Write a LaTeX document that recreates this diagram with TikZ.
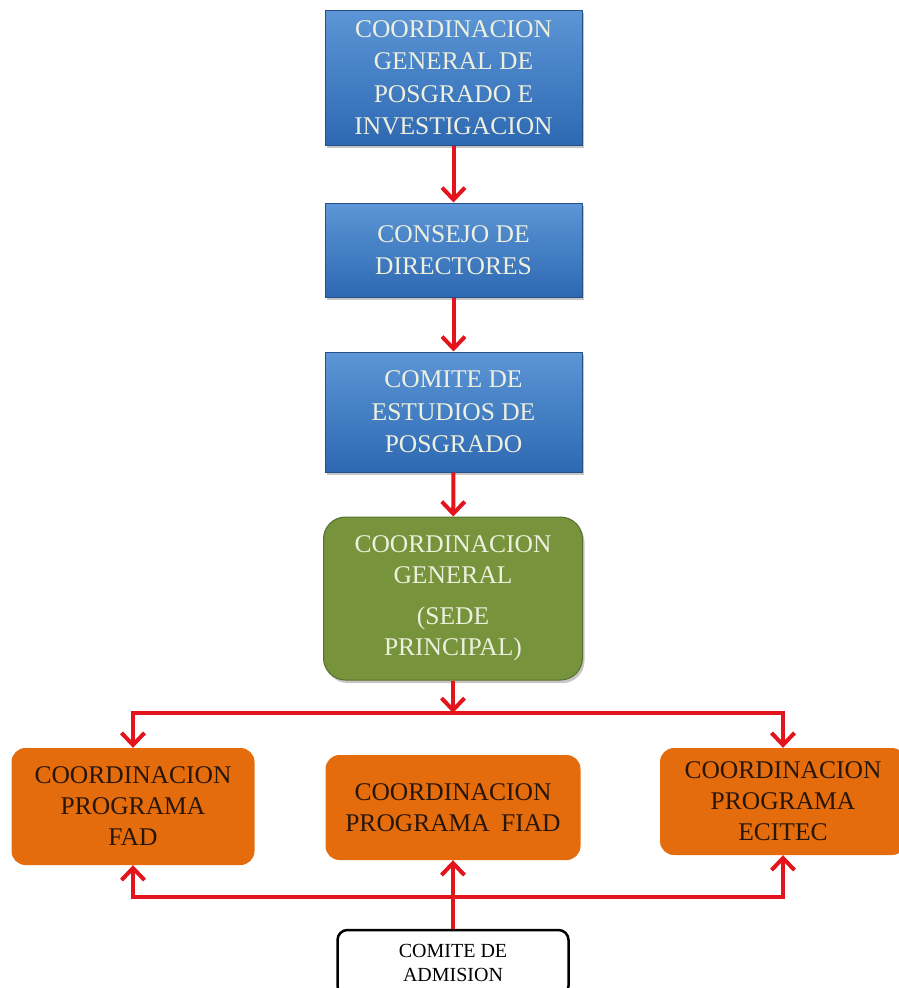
\documentclass[tikz,border=0pt]{standalone}
\usepackage{fontspec}
\setmainfont{Liberation Serif}
\usepackage{tikz}
\usetikzlibrary{arrows.meta,shadows}

\definecolor{bluetop}{RGB}{92,150,214}
\definecolor{bluebot}{RGB}{46,104,178}
\definecolor{blueedge}{RGB}{38,78,135}
\definecolor{greenfill}{RGB}{119,147,60}
\definecolor{greenedge}{RGB}{88,112,42}
\definecolor{orangefill}{RGB}{228,108,12}
\definecolor{linered}{RGB}{228,20,28}
\definecolor{lighttext}{RGB}{238,240,222}
\definecolor{darktext}{RGB}{40,22,10}

\begin{document}
\begin{tikzpicture}[x=1pt, y=-1pt,
        bluebox/.style={rectangle, top color=bluetop, bottom color=bluebot, draw=blueedge, line width=1pt,
            drop shadow={shadow xshift=2pt, shadow yshift=-3pt, opacity=0.45},
            text=lighttext, align=center, font=\fontsize{25.5}{32.5}\selectfont, inner sep=0pt,
            minimum width=257pt},
        greenbox/.style={rectangle, rounded corners=22pt, fill=greenfill, draw=greenedge, line width=1pt,
            drop shadow={shadow xshift=2pt, shadow yshift=-3pt, opacity=0.45},
            text=lighttext, align=center, font=\fontsize{25.5}{31}\selectfont, inner sep=0pt},
        orangebox/.style={rectangle, rounded corners=14pt, fill=orangefill,
            text=darktext, align=center, font=\fontsize{25.5}{31}\selectfont, inner sep=0pt},
        whitebox/.style={rectangle, rounded corners=10pt, draw=black, line width=2.5pt, fill=white,
            align=center, font=\fontsize{20}{24}\selectfont, inner sep=0pt},
        link/.style={linered, line width=4pt, -{Straight Barb[length=12pt, width=23pt]}},
        bar/.style={linered, line width=4pt}]
    \useasboundingbox (0,0) rectangle (899,988);
    \clip (0,0) rectangle (899,988);

    % top chain
    \node[bluebox, minimum height=135pt] (cgpi) at (453.5,77.5)
        {COORDINACION\\GENERAL DE\\POSGRADO E\\INVESTIGACION};
    \node[bluebox, minimum height=94pt] (consejo) at (453.5,250)
        {CONSEJO DE\\DIRECTORES};
    \node[bluebox, minimum height=120pt] (estudios) at (453.5,412)
        {COMITE DE\\ESTUDIOS DE\\POSGRADO};
    \node[greenbox, minimum width=259pt, minimum height=163pt] (general) at (453,598.5)
        {COORDINACION\\GENERAL\\[10pt](SEDE\\PRINCIPAL)};

    % programs
    \node[orangebox, minimum width=243pt, minimum height=117pt] (fad) at (133,806.5)
        {COORDINACION\\PROGRAMA\\FAD};
    \node[orangebox, minimum width=255pt, minimum height=105pt] (fiad) at (453,807.5)
        {COORDINACION\\PROGRAMA\;\,FIAD};
    \node[orangebox, minimum width=246pt, minimum height=107pt] (ecitec) at (783,801.5)
        {COORDINACION\\PROGRAMA\\ECITEC};
    \node[whitebox, minimum width=231pt, minimum height=66pt] (admision) at (453,963)
        {COMITE DE\\ADMISION};

    \coordinate (split) at (453,713);
    \coordinate (join) at (453,897);

    \draw[link] (cgpi) -- (consejo);
    \draw[link] (consejo) -- (estudios);
    \draw[link] (estudios) -- (general);
    \draw[link] (general) -- (split);
    \draw[bar] (fad.north |- split) -- (ecitec.north |- split);
    \draw[link] (split) -| (fad.north);
    \draw[link] (split) -| (ecitec.north);

    \draw[bar] (fad.south |- join) -- (ecitec.south |- join);
    \draw[link] (admision) -- (fiad);
    \draw[link] (join) -| (fad.south);
    \draw[link] (join) -| (ecitec.south);
\end{tikzpicture}
\end{document}
